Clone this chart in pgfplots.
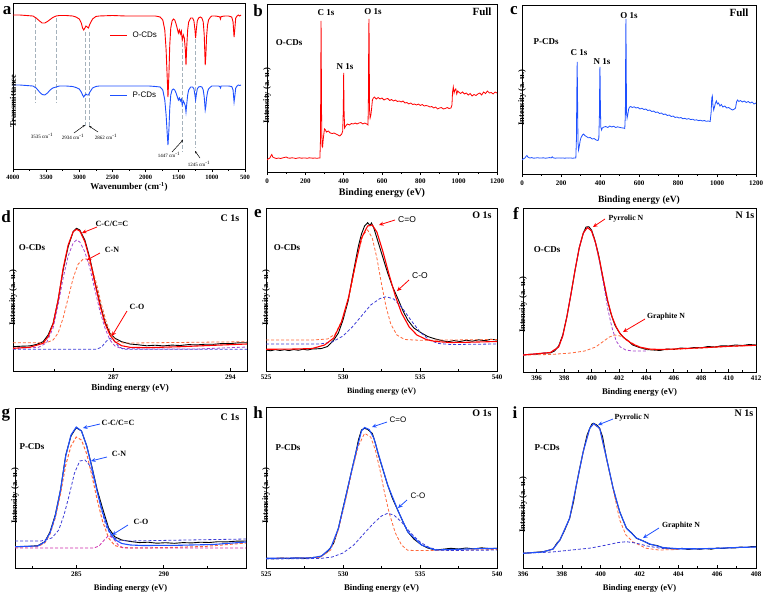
\documentclass[border=0pt]{standalone}
\usepackage{fontspec}
\setmainfont{Liberation Serif}
\newfontfamily\sansf{Liberation Sans}
\usepackage{pgfplots}
\pgfplotsset{compat=1.18}
\usetikzlibrary{arrows.meta}
\definecolor{pblue}{RGB}{30,80,255}
\definecolor{dorange}{RGB}{255,105,60}
\definecolor{dpurple}{RGB}{165,70,205}
\definecolor{dblue}{RGB}{60,60,215}
\definecolor{dmag}{RGB}{205,40,170}
\definecolor{guide}{RGB}{165,178,188}
\newcommand{\fs}[1]{\fontsize{#1}{#1}\selectfont}
\pgfplotsset{
  panel/.style={scale only axis, anchor=south west, axis line style={line width=0.8pt},
    ytick=\empty, xtick pos=left, major tick length=3pt, minor tick length=1.6pt,
    every tick/.append style={black, line width=0.6pt},
    tick label style={font=\bfseries\fs{7}},
    /pgf/number format/assume math mode=true, /pgf/number format/1000 sep={},
    ylabel={Intensity (a. u.)}, xlabel={Binding energy (eV)},
    ylabel style={font=\bfseries\fs{8.5}, at={(axis description cs:0,0.5)}, anchor=center, xshift=-8pt},
    xlabel style={font=\bfseries\fs{9}, at={(axis description cs:0.5,0)}, anchor=center}},
  dat/.style={black, line width=0.9pt},
  fit/.style={line width=1.1pt},
  comp/.style={line width=0.8pt, dash pattern=on 3pt off 2pt},
}
\tikzset{arr/.style={line width=0.8pt, -{Stealth[length=4.5pt,width=4pt]}},
  lab/.style={font=\bfseries\fs{9}}, tag/.style={font=\bfseries\fs{17}}}
\begin{document}
\begin{tikzpicture}
% ---------------- a ----------------
\begin{axis}[panel, at={(13pt,-169pt)}, width=232pt, height=166pt, x dir=reverse,
  xmin=500, xmax=4000, ymin=-169, ymax=-3, xtick={500,1000,...,4000}, minor x tick num=1,
  tick align=outside, tick label style={font=\bfseries\fs{6.5}},
  xlabel={Wavenumber (cm\textsuperscript{-1})}, ylabel={Transmittance},
  xlabel style={yshift=-18pt}, ylabel style={xshift=-7pt}]
\addplot[guide, line width=0.7pt, dash pattern=on 4pt off 2pt] coordinates {(3658,-18) (3658,-103)};
\addplot[guide, line width=0.7pt, dash pattern=on 4pt off 2pt] coordinates {(3351,-18) (3351,-103)};
\addplot[guide, line width=0.7pt, dash pattern=on 4pt off 2pt] coordinates {(2914,-32) (2914,-127)};
\addplot[guide, line width=0.7pt, dash pattern=on 4pt off 2pt] coordinates {(2849,-32) (2849,-127)};
\addplot[guide, line width=0.7pt, dash pattern=on 4pt off 2pt] coordinates {(1440,-37) (1440,-152)};
\addplot[guide, line width=0.7pt, dash pattern=on 4pt off 2pt] coordinates {(1254,-33) (1254,-148)};
\addplot[red, line width=0.9pt] coordinates {(4000,-15) (3900,-15) (3800,-15.5) (3700,-16) (3650,-18) (3600,-21) (3560,-23) (3520,-23) (3480,-21.5) (3440,-19.5) (3400,-17.5) (3350,-16) (3300,-15.5) (3200,-15.5) (3100,-16) (3050,-17) (3000,-19) (2970,-23) (2950,-28) (2934,-30) (2915,-28) (2900,-26) (2880,-27) (2862,-28) (2840,-24) (2800,-19) (2750,-16.5) (2700,-16) (2500,-15.5) (2300,-16) (2100,-16) (1950,-16) (1850,-16) (1780,-17) (1740,-20) (1710,-30) (1690,-50) (1675,-75) (1662,-97) (1648,-75) (1635,-45) (1620,-28) (1600,-21) (1580,-19) (1560,-20) (1540,-24) (1520,-29) (1505,-33) (1490,-30) (1475,-34) (1460,-31) (1447,-40) (1430,-35) (1415,-38) (1400,-50) (1390,-65) (1380,-48) (1365,-30) (1350,-22) (1320,-18) (1290,-18) (1270,-21) (1255,-30) (1245,-38) (1235,-30) (1220,-21) (1200,-18) (1175,-17) (1150,-18) (1130,-22) (1115,-35) (1100,-65) (1090,-55) (1080,-37) (1065,-25) (1050,-20) (1020,-17) (1000,-16) (950,-16) (900,-16.5) (880,-17) (870,-19) (860,-16.5) (800,-16) (750,-16) (700,-17) (680,-22) (665,-37) (655,-30) (640,-18) (620,-16) (600,-15) (580,-16) (560,-15)};
\addplot[pblue, line width=0.9pt] coordinates {(4000,-85) (3900,-85) (3800,-85.5) (3700,-86) (3650,-88) (3600,-92) (3560,-94.5) (3520,-95) (3480,-93) (3440,-90) (3400,-88) (3350,-87) (3300,-86) (3200,-86) (3100,-86.5) (3050,-87.5) (3000,-89) (2970,-92) (2950,-95) (2934,-97) (2915,-95) (2900,-94) (2880,-95) (2862,-95) (2840,-92) (2800,-88) (2750,-86.5) (2700,-86) (2500,-86) (2300,-86) (2100,-86) (1950,-86) (1850,-86.5) (1780,-87) (1740,-90) (1710,-100) (1690,-115) (1675,-132) (1662,-145) (1648,-130) (1635,-108) (1620,-95) (1600,-90) (1580,-89) (1560,-90) (1540,-93) (1520,-97) (1505,-100) (1490,-98) (1475,-101) (1460,-99) (1447,-105) (1430,-101) (1415,-103) (1400,-106) (1390,-112) (1380,-105) (1365,-95) (1350,-90) (1320,-87) (1290,-87) (1270,-89) (1255,-95) (1245,-100) (1235,-95) (1220,-89) (1200,-87) (1175,-86.5) (1150,-87) (1130,-90) (1115,-97) (1100,-110) (1090,-106) (1080,-98) (1065,-92) (1050,-89) (1020,-87) (1000,-86) (950,-86) (900,-86) (880,-86.5) (870,-88) (860,-86) (800,-86) (750,-86) (700,-86.5) (680,-90) (665,-102) (655,-97) (640,-88) (620,-86) (600,-85) (580,-85.5) (560,-85)};
\end{axis}
% ---------------- b ----------------
\begin{axis}[panel, at={(267pt,-172pt)}, width=230pt, height=168pt, xmin=0, xmax=1200,
  ymin=-172, ymax=-4, xtick={0,200,...,1200}, minor x tick num=1, tick align=outside,
  xlabel style={yshift=-21pt, font=\bfseries\fs{10}}]
\addplot[red, line width=0.8pt] coordinates {(0,-160) (5,-159) (10,-158.5) (15,-158) (20,-156) (25,-154.5) (30,-157) (40,-158) (50,-158.5) (60,-158) (70,-158.5) (80,-158) (90,-157.5) (100,-157) (110,-158) (120,-158.2) (130,-157.8) (140,-158) (150,-158.5) (160,-158) (170,-157.8) (180,-158.2) (190,-158) (200,-158) (210,-158.3) (220,-157.8) (230,-158) (240,-158.2) (250,-158) (260,-158.3) (270,-158) (276,-158) (279,-140) (281,-60) (282,-21) (283,-50) (285,-120) (287,-146) (290,-147) (293,-140) (297,-133) (300,-129) (305,-130) (310,-132) (320,-131) (330,-133) (340,-133.5) (350,-133) (360,-134) (370,-135) (380,-136) (390,-134) (395,-131) (398,-110) (400,-73) (402,-110) (405,-128) (410,-126) (420,-124) (430,-125) (440,-123.5) (450,-124) (460,-123) (470,-124) (480,-123) (490,-122.5) (500,-124) (510,-123) (520,-124) (527,-125) (529,-100) (531,-30) (532,-19) (533,-40) (535,-110) (538,-118) (542,-115) (546,-108) (550,-100) (555,-98) (560,-97) (570,-99) (580,-97.5) (590,-99) (600,-98) (610,-100) (620,-99) (630,-98.5) (640,-100.5) (650,-99.5) (660,-101) (670,-100) (680,-101.5) (690,-101) (700,-102) (710,-101) (720,-103) (730,-102.5) (740,-104) (750,-103) (760,-104.5) (770,-104) (780,-105) (790,-104) (800,-105.5) (810,-104.5) (820,-106) (830,-105.5) (840,-106) (850,-107) (860,-106.5) (870,-108) (880,-107) (890,-109) (900,-108) (910,-107.5) (920,-109) (930,-108.5) (940,-107.5) (950,-108.5) (960,-108) (965,-105) (968,-92) (972,-87) (976,-93) (980,-90) (985,-89) (990,-94) (995,-91) (1000,-92) (1010,-93.5) (1020,-92) (1030,-94) (1040,-93) (1050,-95) (1060,-93.5) (1070,-96) (1080,-94.5) (1090,-95.5) (1100,-94) (1110,-93) (1120,-95) (1130,-92) (1140,-93.5) (1150,-91) (1160,-93) (1170,-92.5) (1180,-94) (1190,-92) (1200,-93)};
\end{axis}
% ---------------- c ----------------
\begin{axis}[panel, at={(522pt,-174pt)}, width=234pt, height=169pt, xmin=0, xmax=1200,
  ymin=-174, ymax=-5, xtick={0,200,...,1200}, minor x tick num=1, tick align=outside,
  xlabel style={yshift=-26pt, font=\bfseries\fs{9.5}}]
\addplot[pblue, line width=0.8pt] coordinates {(0,-160) (5,-159) (10,-158.5) (15,-158) (20,-156.5) (25,-155.5) (30,-157) (40,-158) (50,-157.6) (60,-158.2) (70,-158) (80,-157.7) (90,-158.1) (100,-158) (110,-157.8) (120,-158.2) (130,-158) (140,-157.6) (150,-157.9) (155,-156.8) (160,-157.8) (170,-158.2) (180,-158) (190,-157.9) (200,-158.1) (210,-158) (220,-158.2) (230,-157.9) (240,-158.1) (250,-158) (260,-158.2) (270,-158) (276,-158) (279,-140) (281,-95) (283,-62) (285,-100) (287,-142) (290,-150) (294,-146) (298,-141) (302,-138) (306,-136.5) (310,-135) (316,-134) (322,-135.5) (330,-136.5) (340,-137.8) (350,-137.5) (360,-139) (370,-138.5) (380,-140) (390,-140.5) (394,-138) (397,-115) (399,-70) (400,-67) (402,-105) (404,-127) (408,-130) (412,-128) (420,-127) (430,-126.5) (440,-127.5) (450,-126) (460,-127) (470,-126.2) (480,-127.5) (490,-126.8) (500,-127.3) (510,-127.8) (520,-128) (527,-128.5) (530,-115) (532,-40) (533,-19) (534,-50) (536,-112) (539,-118) (543,-114) (547,-109) (552,-107) (558,-106.5) (565,-107.5) (575,-106.8) (585,-108) (595,-107.5) (605,-109) (615,-108.2) (625,-109.5) (635,-109) (645,-110.5) (655,-110) (665,-111.5) (675,-111) (685,-112.5) (695,-112) (705,-113.5) (715,-113) (725,-114.5) (735,-114) (745,-115.5) (755,-115) (765,-116.5) (775,-116) (785,-117.5) (795,-117) (805,-118) (815,-117.5) (825,-118.8) (835,-118.3) (845,-119.2) (855,-118.6) (865,-119.6) (875,-119.2) (885,-120.2) (895,-119.8) (905,-120.6) (915,-120.2) (925,-121) (935,-120.5) (945,-121.3) (955,-121) (965,-121.5) (970,-112) (973,-98) (976,-96) (979,-105) (983,-110) (987,-107) (992,-103) (997,-101) (1002,-104) (1008,-103) (1015,-106) (1022,-104.5) (1030,-107) (1040,-106) (1050,-108) (1060,-107.5) (1070,-109) (1080,-110) (1090,-109) (1095,-108) (1100,-102) (1105,-100) (1112,-101.5) (1120,-100.5) (1130,-102) (1140,-101) (1150,-102.5) (1160,-101.5) (1170,-103) (1180,-102) (1190,-104) (1200,-103)};
\end{axis}
% ---------------- d ----------------
\begin{axis}[panel, at={(13pt,-371pt)}, width=234pt, height=163pt, xmin=281, xmax=295,
  ymin=-371, ymax=-208, xtick={287,294}, minor xtick={283.5,290.5}, tick align=inside,
  xlabel style={yshift=-17pt}]
\addplot[dat] coordinates {(281,-346.7) (281.5,-346.2) (282,-345.9) (282.4,-344.5) (282.8,-341.7) (283.1,-335) (283.4,-323.3) (283.7,-300) (284,-270) (284.3,-246.7) (284.6,-231.7) (284.8,-228.3) (285,-230) (285.3,-240) (285.6,-258.3) (285.9,-281.7) (286.2,-303.3) (286.5,-321.7) (286.8,-333.3) (287.1,-338.3) (287.5,-341.7) (288,-344) (288.5,-344.8) (289,-345.8) (289.5,-345.2) (290,-345.9) (290.5,-345.1) (291,-345.5) (291.5,-344.6) (292,-344.9) (292.5,-344.2) (293,-344.3) (293.5,-343.5) (294,-343.6) (294.5,-342.8) (295,-342.7)};
\addplot[comp, dorange] coordinates {(281,-342.7) (283,-342.7) (283.4,-340) (283.7,-333) (284,-318) (284.3,-298) (284.6,-278) (284.9,-264) (285.2,-259) (285.4,-259) (285.7,-266) (286,-284) (286.3,-305) (286.6,-323) (286.9,-335) (287.2,-341) (287.6,-343) (288,-343) (295,-341.7)};
\addplot[comp, dpurple] coordinates {(281,-348.3) (282.5,-347.5) (283,-343) (283.4,-328) (283.7,-305) (284,-278) (284.3,-256) (284.6,-243) (284.8,-240) (285,-242) (285.3,-252) (285.6,-268) (285.9,-290) (286.2,-311) (286.5,-328) (286.8,-340) (287.1,-346) (287.5,-348.5) (289,-349) (292,-349) (295,-347)};
\addplot[comp, dblue] coordinates {(281,-349.3) (286,-349.3) (286.3,-347) (286.6,-341) (286.8,-338.5) (287,-340) (287.3,-346) (287.6,-349.3) (295,-349.3)};
\addplot[fit, red] coordinates {(281,-348.3) (282,-347.3) (282.8,-343.3) (283.1,-336.7) (283.4,-324) (283.7,-300) (284,-268.3) (284.3,-245) (284.6,-231.7) (284.8,-229.3) (285,-231) (285.3,-241.7) (285.6,-260) (285.9,-283.3) (286.2,-305) (286.5,-323.3) (286.8,-335) (287.1,-341.7) (287.5,-345.7) (288,-347.3) (289,-347.7) (291,-346.7) (293,-345.3) (295,-344)};
\end{axis}
% ---------------- e ----------------
\begin{axis}[panel, at={(266pt,-371pt)}, width=231pt, height=163pt, xmin=525, xmax=540,
  ymin=-371, ymax=-208, xtick={525,530,535,540}, minor x tick num=1, tick align=inside,
  xlabel style={yshift=-21pt, font=\bfseries\fs{8}}]
\addplot[dat] coordinates {(525,-350) (525.3,-350.8) (525.6,-349.6) (525.9,-350.5) (526.2,-349.7) (526.5,-350.6) (526.8,-349.5) (527.1,-350.3) (527.4,-349.2) (527.7,-350) (528,-349) (528.3,-348.8) (528.6,-348.5) (529,-346.5) (529.4,-340) (529.7,-333) (530,-320) (530.35,-300) (530.6,-278) (530.8,-262) (531,-246) (531.2,-234) (531.4,-226) (531.6,-222.7) (531.75,-225.5) (531.85,-223) (532,-228) (532.3,-243) (532.6,-258) (532.9,-273) (533.2,-286) (533.6,-300) (533.9,-311) (534.2,-320) (534.6,-328) (535.1,-333) (535.5,-336.5) (536,-339) (536.4,-340.5) (536.8,-341.8) (537.2,-340.6) (537.6,-341.5) (538,-340.2) (538.4,-341.2) (538.8,-339.8) (539.2,-340.7) (539.6,-339.3) (540,-340)};
\addplot[comp, dorange] coordinates {(525,-340) (528,-340) (529,-339) (529.5,-334) (530,-318) (530.5,-290) (530.9,-258) (531.3,-235) (531.6,-230) (531.9,-238) (532.2,-258) (532.5,-284) (532.8,-307) (533.1,-324) (533.5,-335) (534,-339.5) (535,-340.3) (540,-339.5)};
\addplot[comp, dblue] coordinates {(525,-344) (528.5,-344) (529.3,-342) (530,-336) (530.6,-327) (531.2,-316) (531.8,-305) (532.4,-298.5) (532.8,-296.7) (533.3,-299) (533.8,-307) (534.4,-320) (535,-332) (535.6,-340) (536.2,-343.5) (537,-344.5) (540,-344)};
\addplot[fit, red] coordinates {(525,-349.3) (527,-349) (528,-348.5) (528.8,-345) (529.4,-338) (529.9,-322) (530.35,-298) (530.8,-265) (531.2,-238) (531.6,-226) (531.9,-225) (532.2,-232) (532.6,-252) (533,-275) (533.4,-296) (533.8,-313) (534.3,-327) (534.8,-335) (535.4,-339.5) (536,-341.5) (537,-342.5) (538,-342.3) (540,-341.5)};
\end{axis}
% ---------------- f ----------------
\begin{axis}[panel, at={(523pt,-372pt)}, width=233pt, height=164pt, xmin=395, xmax=412,
  ymin=-372, ymax=-208, xtick={396,398,...,412}, minor x tick num=1, tick align=inside,
  xlabel style={yshift=-20pt, font=\bfseries\fs{8.7}}, ylabel style={xshift=-7pt}]
\addplot[dat] coordinates {(395,-355) (395.5,-354.3) (396,-354.2) (396.5,-353.1) (397,-352.9) (397.3,-351) (397.6,-346) (397.9,-335) (398.2,-316.7) (398.5,-294) (398.8,-270) (399.1,-248) (399.4,-233) (399.6,-227) (399.8,-226.7) (400,-230) (400.2,-238) (400.5,-254) (400.8,-276) (401.1,-297) (401.4,-313) (401.7,-325) (402,-332) (402.3,-337) (402.7,-341) (403,-345) (403.5,-347.5) (404,-349.5) (404.5,-350) (405,-350.5) (405.5,-349) (406,-349.5) (406.5,-348) (407,-348.5) (407.5,-347.5) (408,-347.8) (408.5,-346.5) (409,-347) (409.5,-345.7) (410,-346) (410.5,-345) (411,-345.5) (411.5,-344.5) (412,-345)};
\addplot[comp, dorange] coordinates {(395,-355) (397,-354.5) (398.5,-353) (399.5,-351) (400.3,-347) (400.8,-342) (401.3,-337) (401.7,-335) (402.1,-336) (402.6,-340) (403.2,-345) (403.8,-348.5) (404.5,-350) (406,-349.5) (408,-348) (410,-346.5) (412,-345.3)};
\addplot[comp, dpurple] coordinates {(395,-355) (397,-352.5) (397.6,-347) (397.9,-336) (398.2,-317) (398.5,-294) (398.8,-270) (399.1,-248) (399.4,-233) (399.7,-227.5) (400,-231) (400.3,-244) (400.6,-263) (400.9,-286) (401.2,-310) (401.5,-328) (401.8,-341) (402.1,-347) (402.5,-350) (403,-351) (404,-351)};
\addplot[fit, red] coordinates {(395,-355) (397,-352.5) (397.6,-347) (397.9,-336) (398.2,-317) (398.5,-294) (398.8,-270) (399.1,-248) (399.4,-233) (399.7,-227.5) (400,-231) (400.3,-243) (400.6,-261) (400.9,-282) (401.2,-302) (401.5,-317) (401.8,-327) (402.1,-334) (402.5,-339.5) (403,-344) (403.5,-347) (404.2,-349) (405,-349.5) (406,-349) (408,-347.8) (410,-346.3) (412,-345.3)};
\end{axis}
% ---------------- g ----------------
\begin{axis}[panel, at={(15pt,-568pt)}, width=231pt, height=160pt, xmin=281.5, xmax=294.7,
  ymin=-568, ymax=-408, xtick={285,290}, minor xtick={282.5,287.5,292.5}, tick align=inside,
  xlabel style={yshift=-20pt, font=\bfseries\fs{8.5}}]
\addplot[dat] coordinates {(281.5,-546.7) (282.3,-546.3) (282.8,-545.7) (283.2,-541.7) (283.5,-532) (283.8,-515) (284.1,-490) (284.4,-455) (284.7,-436) (285,-427.7) (285.3,-431) (285.6,-446) (285.9,-467) (286.2,-490) (286.5,-508) (286.85,-528) (287.2,-536.7) (287.6,-540) (288.1,-541.5) (288.6,-542.6) (289.1,-542.2) (289.6,-543.2) (290.1,-542.7) (290.6,-543.3) (291.1,-542.6) (291.6,-542.9) (292.1,-542.2) (292.6,-542.5) (293.1,-541.7) (293.6,-541.9) (294.1,-541.2) (294.7,-541)};
\addplot[comp, dorange, line width=1pt] coordinates {(281.5,-547) (282.8,-546.5) (283.2,-543) (283.5,-534) (283.8,-518) (284.1,-494) (284.4,-465) (284.7,-446) (285,-437) (285.3,-440) (285.6,-454) (285.9,-476) (286.2,-500) (286.5,-521) (286.85,-538) (287.2,-545.5) (287.6,-547.5) (288.3,-548) (290.3,-547.5) (292.3,-546.5) (294.7,-543)};
\addplot[comp, dblue] coordinates {(281.5,-541) (283,-541) (283.6,-538) (284,-530) (284.3,-515) (284.6,-495) (284.9,-473) (285.2,-461) (285.5,-460) (285.8,-466) (286.1,-484) (286.4,-507) (286.7,-526) (287,-536) (287.4,-540) (288,-541) (294.7,-539)};
\addplot[comp, dmag] coordinates {(281.5,-548) (286,-548) (286.3,-546) (286.6,-540) (286.85,-535.5) (287.1,-538) (287.4,-545) (287.7,-548) (294.7,-548)};
\addplot[fit, pblue] coordinates {(281.5,-546.7) (282.8,-546) (283.2,-542) (283.5,-533) (283.8,-516) (284.1,-490) (284.4,-456) (284.7,-435) (285,-427) (285.3,-431) (285.6,-446) (285.9,-468) (286.2,-492) (286.5,-512) (286.85,-530) (287.2,-539.5) (287.6,-543.5) (288.1,-545) (288.8,-545.5) (290.8,-545.3) (292.8,-544.5) (294.7,-542)};
\end{axis}
% ---------------- h ----------------
\begin{axis}[panel, at={(266pt,-568pt)}, width=231pt, height=161pt, xmin=525, xmax=540,
  ymin=-568, ymax=-407, xtick={525,530,535,540}, minor x tick num=1, tick align=inside,
  xlabel style={yshift=-20pt, font=\bfseries\fs{8.7}}]
\addplot[dat] coordinates {(525,-558.3) (525.5,-558.8) (526,-558) (526.5,-558.6) (527,-557.8) (527.5,-558.4) (528,-557.5) (528.5,-557) (529,-551.7) (529.4,-543) (529.7,-528.3) (530,-508) (530.35,-485) (530.6,-468) (530.8,-455) (531,-440) (531.2,-430) (531.4,-428.3) (531.6,-429.5) (531.9,-433.3) (532.1,-443) (532.3,-455) (532.6,-470) (532.9,-485) (533.2,-498) (533.6,-511.7) (533.9,-522) (534.2,-531.7) (534.6,-539) (535.1,-545) (535.5,-548) (536,-550) (536.5,-549.2) (537,-548.3) (537.5,-549) (538,-548) (538.5,-548.9) (539,-547.8) (539.5,-548.6) (540,-548.3)};
\addplot[comp, dorange] coordinates {(525,-558.3) (528.5,-557.5) (529.2,-550) (529.7,-530) (530.2,-498) (530.6,-470) (531,-446) (531.4,-433.3) (531.8,-437) (532.1,-450) (532.4,-470) (532.7,-493) (533,-513) (533.4,-533) (533.8,-545) (534.2,-550.3) (534.8,-550.5) (535.5,-550.5) (540,-549.5)};
\addplot[comp, dblue] coordinates {(525,-559) (528.5,-558.5) (529.3,-557) (530,-553) (530.7,-545) (531.4,-533) (532,-523) (532.5,-516) (532.9,-513.3) (533.3,-515) (533.8,-522) (534.4,-533) (535,-542) (535.6,-547.5) (536.2,-550) (537,-550.5) (540,-550)};
\addplot[fit, pblue] coordinates {(525,-558.3) (528,-557.8) (528.6,-556) (529.2,-548) (529.7,-528.3) (530,-509) (530.35,-485) (530.8,-455) (531.2,-431) (531.4,-427.5) (531.7,-429.5) (532,-438) (532.3,-454) (532.9,-485) (533.6,-511.7) (534.2,-531.7) (535.1,-545) (536,-550) (537,-549.5) (538.5,-548.8) (540,-548.3)};
\end{axis}
% ---------------- i ----------------
\begin{axis}[panel, at={(523pt,-568pt)}, width=233pt, height=161pt, xmin=396, xmax=408,
  ymin=-568, ymax=-407, xtick={396,398,...,408}, minor x tick num=1, tick align=inside,
  xlabel style={yshift=-20.5pt, font=\bfseries\fs{8.5}}, ylabel style={xshift=-9pt}]
\addplot[dat] coordinates {(396,-553.3) (396.5,-552.5) (397.03,-551.7) (397.3,-550.5) (397.55,-549) (397.75,-543) (397.9,-540) (398.15,-530) (398.4,-518.3) (398.6,-502) (398.75,-485) (398.9,-470) (399.1,-451.7) (399.3,-435) (399.44,-428.3) (399.55,-424) (399.64,-423.3) (399.8,-425) (399.95,-428.3) (400.1,-437) (400.3,-458.3) (400.5,-476) (400.64,-488.3) (400.8,-500) (400.98,-511.7) (401.15,-520) (401.33,-528.3) (401.6,-533) (401.84,-538.3) (402.2,-541) (402.53,-544.3) (402.9,-545.5) (403.2,-547.7) (403.5,-548.5) (403.9,-549) (404.2,-548.3) (404.5,-549.5) (404.8,-548.7) (405.1,-549.3) (405.4,-548.5) (405.7,-549.2) (406,-548) (406.3,-548.5) (406.6,-547.7) (406.9,-548) (407.2,-547) (407.5,-547.5) (407.8,-546.5) (408,-546.7)};
\addplot[comp, dorange] coordinates {(396,-553.3) (397,-552) (397.55,-549) (397.9,-540) (398.4,-518.3) (398.75,-485) (399.1,-451.7) (399.44,-428.3) (399.64,-424) (399.95,-429) (400.3,-459) (400.64,-489) (400.98,-520) (401.3,-535) (401.67,-542) (402.35,-548.3) (403,-550) (404,-549.5)};
\addplot[comp, dblue] coordinates {(396,-553.3) (397.5,-552) (398.5,-550) (399.5,-548) (400.3,-545) (400.9,-542.5) (401.33,-541.7) (401.8,-543) (402.4,-546) (403.1,-548.3) (404,-549) (405,-549) (406,-548.3) (407,-547.5) (408,-547)};
\addplot[fit, pblue] coordinates {(396,-553.3) (397,-552) (397.55,-549) (397.9,-540) (398.4,-518.3) (398.75,-485) (399.1,-451.7) (399.44,-428.3) (399.64,-423.5) (399.95,-428.5) (400.3,-458) (400.64,-488) (400.98,-511.7) (401.33,-528.3) (401.84,-538) (402.53,-544) (403.2,-547.5) (404,-548.7) (405,-548.8) (406,-548.3) (407,-547.5) (408,-547)};
\end{axis}
% ---------------- annotations ----------------
% panel letters
\node[tag] at (7pt,-11pt) {a};
\node[tag] at (258pt,-11pt) {b};
\node[tag] at (514pt,-11pt) {c};
\node[tag] at (6pt,-217pt) {d};
\node[tag] at (258pt,-214pt) {e};
\node[tag] at (516pt,-214pt) {f};
\node[tag] at (6pt,-415pt) {g};
\node[tag] at (258pt,-413pt) {h};
\node[tag] at (515pt,-413pt) {i};
% a
\draw[red, line width=1pt] (110pt,-35pt) -- (127pt,-35pt);
\node[font=\sansf\fs{8}, anchor=west] at (129pt,-35pt) {O-CDs};
\draw[pblue, line width=1pt] (110pt,-95pt) -- (127pt,-95pt);
\node[font=\sansf\fs{8}, anchor=west] at (129pt,-95pt) {P-CDs};
\node[font=\fs{5}] at (42pt,-136pt) {3535 cm\textsuperscript{-1}};
\node[font=\fs{5}] at (73pt,-137pt) {2934 cm\textsuperscript{-1}};
\node[font=\fs{5}] at (106pt,-137pt) {2862 cm\textsuperscript{-1}};
\node[font=\fs{5}] at (169pt,-155pt) {1447 cm\textsuperscript{-1}};
\node[font=\fs{5}] at (199pt,-164pt) {1245 cm\textsuperscript{-1}};
\draw[black, line width=0.5pt, -{Stealth[length=2.5pt,width=2pt]}] (74pt,-133pt) -- (85pt,-125pt);
\draw[black, line width=0.5pt, -{Stealth[length=2.5pt,width=2pt]}] (98pt,-132pt) -- (89pt,-126pt);
\draw[black, line width=0.5pt, -{Stealth[length=2.5pt,width=2pt]}] (172pt,-152pt) -- (183pt,-140pt);
\draw[black, line width=0.5pt, -{Stealth[length=2.5pt,width=2pt]}] (200pt,-158pt) -- (195pt,-151pt);
% b
\node[lab] at (326pt,-13pt) {C 1s};
\node[lab] at (373pt,-12pt) {O 1s};
\node[lab] at (345pt,-67pt) {N 1s};
\node[font=\bfseries\fs{11}] at (482pt,-12pt) {Full};
\node[lab] at (289pt,-43pt) {O-CDs};
% c
\node[lab] at (579pt,-53pt) {C 1s};
\node[lab] at (602pt,-62pt) {N 1s};
\node[lab] at (629pt,-16pt) {O 1s};
\node[font=\bfseries\fs{11}] at (739pt,-13pt) {Full};
\node[lab] at (546pt,-42pt) {P-CDs};
% d
\node[font=\bfseries\fs{10}] at (230pt,-218pt) {C 1s};
\node[lab] at (32pt,-248pt) {O-CDs};
\node[font=\bfseries\fs{8}] at (112pt,-224pt) {C-C/C=C};
\node[font=\bfseries\fs{8}] at (112pt,-250pt) {C-N};
\node[font=\bfseries\fs{8}] at (137pt,-307pt) {C-O};
\draw[red, arr] (97pt,-227pt) -- (82pt,-233pt);
\draw[red, arr] (100pt,-253pt) -- (87pt,-260pt);
\draw[red, arr] (127pt,-311pt) -- (112pt,-336pt);
% e
\node[font=\bfseries\fs{10}] at (482pt,-215pt) {O 1s};
\node[lab] at (287pt,-248pt) {O-CDs};
\node[font=\sansf\fs{8.5}] at (407pt,-220pt) {C=O};
\node[font=\sansf\fs{8.5}] at (420pt,-276pt) {C-O};
\draw[red, arr] (395pt,-220pt) -- (379pt,-225pt);
\draw[red, arr] (409pt,-280pt) -- (397pt,-291pt);
% f
\node[font=\bfseries\fs{10}] at (745pt,-215pt) {N 1s};
\node[lab] at (547pt,-250pt) {O-CDs};
\node[font=\bfseries\fs{7.8}] at (626pt,-219pt) {Pyrrolic N};
\node[font=\bfseries\fs{7.8}] at (666pt,-317pt) {Graphite N};
\draw[red, arr] (605pt,-219pt) -- (593pt,-227pt);
\draw[red, arr] (645pt,-319pt) -- (623pt,-332pt);
% g
\node[font=\bfseries\fs{10}] at (230pt,-417pt) {C 1s};
\node[lab] at (32pt,-447pt) {P-CDs};
\node[font=\bfseries\fs{8}] at (118pt,-423pt) {C-C/C=C};
\node[font=\bfseries\fs{8}] at (119pt,-454pt) {C-N};
\node[font=\bfseries\fs{8}] at (141pt,-522pt) {C-O};
\draw[pblue, arr] (100pt,-424pt) -- (83pt,-428pt);
\draw[pblue, arr] (107pt,-457pt) -- (91pt,-461pt);
\draw[pblue, arr] (128pt,-525pt) -- (112pt,-535pt);
% h
\node[font=\bfseries\fs{10}] at (482pt,-413pt) {O 1s};
\node[lab] at (288pt,-448pt) {P-CDs};
\node[font=\sansf\fs{8}] at (398pt,-420pt) {C=O};
\node[font=\sansf\fs{8}] at (418pt,-496pt) {C-O};
\draw[pblue, arr] (387pt,-422pt) -- (372pt,-427pt);
\draw[pblue, arr] (407pt,-500pt) -- (398pt,-508pt);
% i
\node[font=\bfseries\fs{10}] at (744pt,-413pt) {N 1s};
\node[lab] at (547pt,-448pt) {P-CDs};
\node[font=\bfseries\fs{7.8}] at (632pt,-418pt) {Pyrrolic N};
\node[font=\bfseries\fs{7.8}] at (681pt,-526pt) {Graphite N};
\draw[pblue, arr] (613pt,-419pt) -- (598pt,-425pt);
\draw[pblue, arr] (659pt,-528pt) -- (643pt,-538pt);
\pgfresetboundingbox
\path[use as bounding box] (0,0) rectangle (765pt,-597pt);
\end{tikzpicture}
\end{document}
